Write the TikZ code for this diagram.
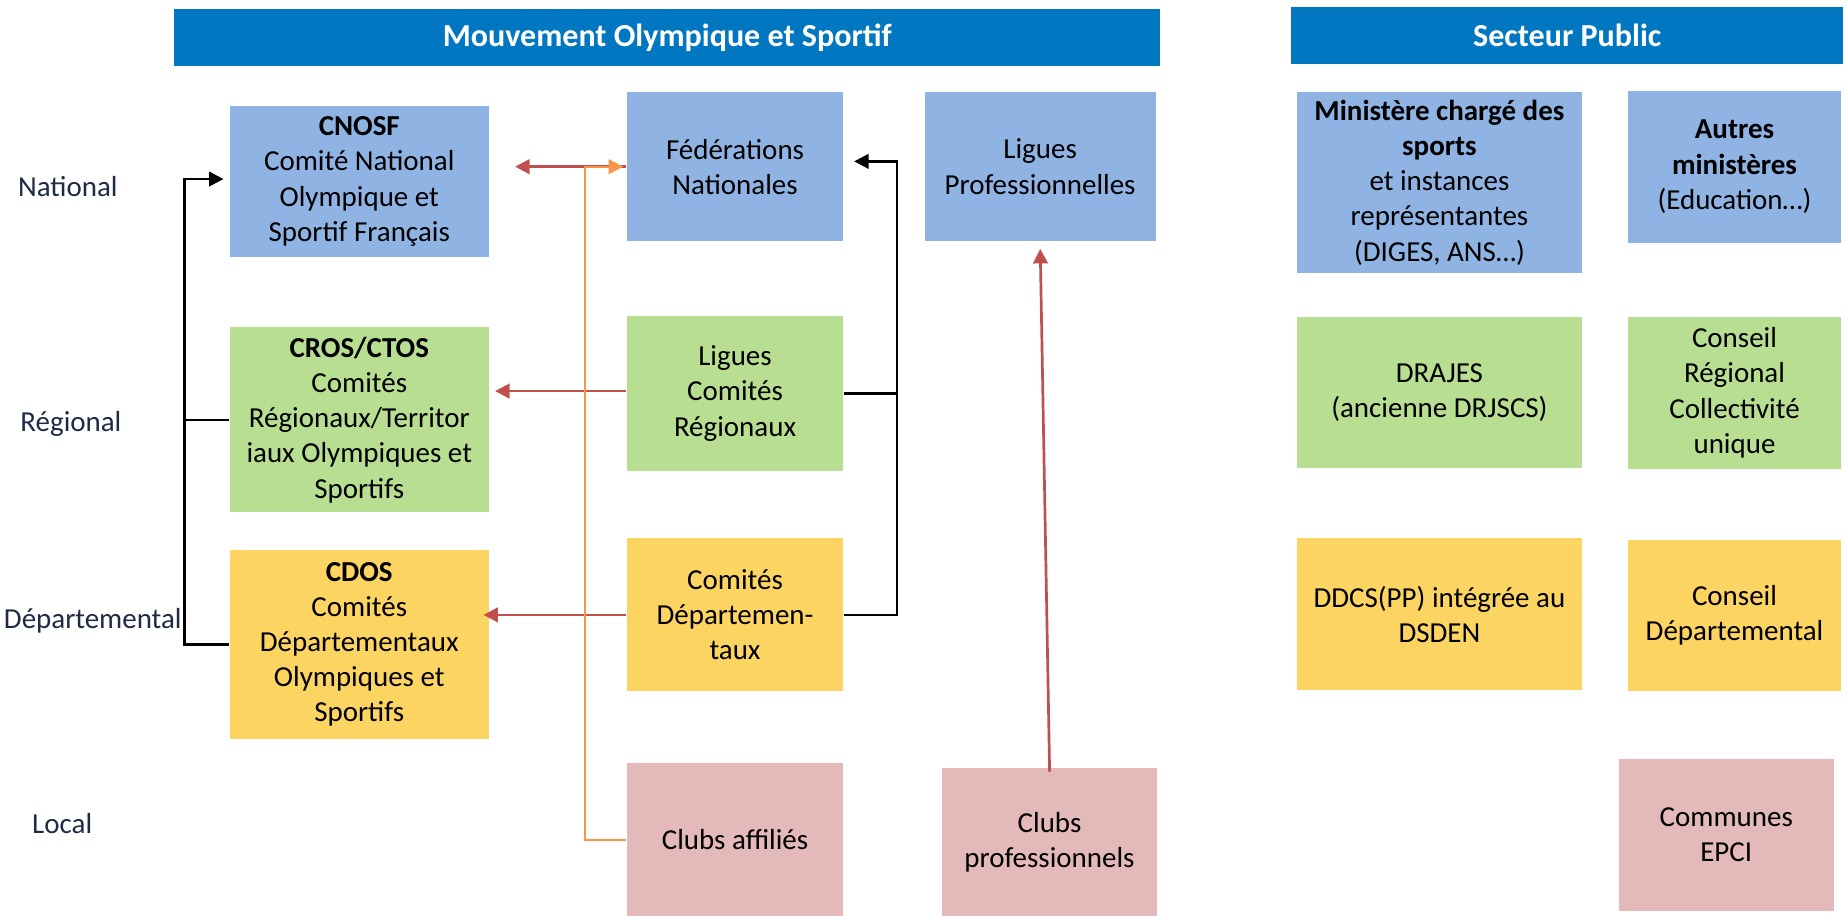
\documentclass[tikz,border=0pt]{standalone}
\usepackage{fontspec}
\setmainfont{Carlito}
\usetikzlibrary{arrows.meta}

\definecolor{bleutitre}{RGB}{0,119,192}
\definecolor{bleucase}{RGB}{143,180,227}
\definecolor{vertcase}{RGB}{184,222,146}
\definecolor{jaunecase}{RGB}{252,212,98}
\definecolor{rosecase}{RGB}{228,185,185}
\definecolor{rougefleche}{RGB}{192,80,77}
\definecolor{orangefleche}{RGB}{247,150,70}
\definecolor{texteniveau}{RGB}{31,42,68}

\tikzset{
  case/.style={inner sep=0pt, align=center, font=\fontsize{14}{17}\selectfont},
  titre/.style={fill=bleutitre, text=white, inner sep=0pt, font=\fontsize{15.5}{18}\selectfont\bfseries},
  niveau/.style={anchor=west, inner sep=0pt, text=texteniveau, font=\fontsize{14}{17}\selectfont},
  fnoire/.style={black, line width=1.2pt, -{Triangle[length=7pt,width=7pt]}},
  frouge/.style={rougefleche, line width=1.3pt, -{Triangle[length=7pt,width=7pt]}},
  forange/.style={orangefleche, line width=1.1pt, -{Triangle[length=7pt,width=7pt]}}
}

\begin{document}
\begin{tikzpicture}[x=0.02cm, y=-0.02cm]
\useasboundingbox (0,0) rectangle (1568,777.6);

% Bandeaux
\node[titre, minimum width=16.74cm, minimum height=0.96cm] (titremo) at (566.5,32) {Mouvement Olympique et Sportif};
\node[titre, minimum width=9.38cm, minimum height=0.96cm] (titresp) at (1330.5,30) {Secteur Public};

% Niveaux
\node[niveau] (nivnat) at (15,158) {National};
\node[niveau] (nivreg) at (17,360) {Régional};
\node[niveau] (nivdep) at (3,527) {Départemental};
\node[niveau] (nivloc) at (27,699) {Local};

% Mouvement olympique
\node[case, fill=bleucase, minimum width=4.40cm, minimum height=2.56cm] (cnosf) at (305,154)
  {\textbf{CNOSF}\\Comité National\\Olympique et\\Sportif Français};
\node[case, fill=vertcase, minimum width=4.40cm, minimum height=3.14cm] (cros) at (305,356.5)
  {\textbf{CROS/CTOS}\\Comités\\Régionaux/Territor\\iaux Olympiques et\\Sportifs};
\node[case, fill=jaunecase, minimum width=4.40cm, minimum height=3.20cm] (cdos) at (305,547)
  {\textbf{CDOS}\\Comités\\Départementaux\\Olympiques et\\Sportifs};

\node[case, fill=bleucase, minimum width=3.68cm, minimum height=2.54cm] (fed) at (624,141.5)
  {Fédérations\\Nationales};
\node[case, fill=vertcase, minimum width=3.68cm, minimum height=2.64cm] (ligreg) at (624,334)
  {Ligues\\Comités\\Régionaux};
\node[case, fill=jaunecase, minimum width=3.68cm, minimum height=2.60cm] (comdep) at (624,522)
  {Comités\\Départemen-\\taux};
\node[case, fill=rosecase, minimum width=3.68cm, minimum height=2.60cm] (clubaff) at (624,713)
  {Clubs affiliés};

\node[case, fill=bleucase, minimum width=3.92cm, minimum height=2.54cm] (ligpro) at (883,141.5)
  {Ligues\\Professionnelles};
\node[case, fill=rosecase, minimum width=3.64cm, minimum height=2.52cm] (clubpro) at (891,715)
  {Clubs\\professionnels};

% Secteur public
\node[case, fill=bleucase, minimum width=4.84cm, minimum height=3.06cm] (minsport) at (1222,155)
  {\textbf{Ministère chargé des}\\\textbf{sports}\\et instances\\représentantes\\(DIGES, ANS…)};
\node[case, fill=bleucase, minimum width=3.62cm, minimum height=2.58cm] (autmin) at (1472.5,141.5)
  {\textbf{Autres}\\\textbf{ministères}\\(Education…)};
\node[case, fill=vertcase, minimum width=4.84cm, minimum height=2.56cm] (drajes) at (1222,333)
  {DRAJES\\(ancienne DRJSCS)};
\node[case, fill=vertcase, minimum width=3.62cm, minimum height=2.58cm] (consreg) at (1472.5,333.5)
  {Conseil\\Régional\\Collectivité\\unique};
\node[case, fill=jaunecase, minimum width=4.84cm, minimum height=2.58cm] (ddcs) at (1222,521.5)
  {DDCS(PP) intégrée au\\DSDEN};
\node[case, fill=jaunecase, minimum width=3.62cm, minimum height=2.58cm] (consdep) at (1472.5,522.5)
  {Conseil\\Départemental};
\node[case, fill=rosecase, minimum width=3.66cm, minimum height=2.58cm] (communes) at (1465.5,708.5)
  {Communes\\EPCI};

% Accolades noires
\draw[fnoire, shorten >=2.8pt] (cdos.west) -- ++(-38,0) |- ([yshift=0.04cm]cnosf.west);
\draw[black, line width=1.2pt] (cros.west) -- ++(-38,0);
\draw[fnoire, shorten >=5pt] (comdep.east) -- ++(45,0) |- ([yshift=0.09cm]fed.east);
\draw[black, line width=1.2pt] (ligreg.east) -- ++(45,0);

% Fleches rouges
\draw[frouge, shorten >=12.5pt] (fed.west) -- (fed.west -| cnosf.east);
\draw[frouge, shorten >=2.8pt] ([yshift=0.04cm]ligreg.west) -- ([yshift=0.04cm]ligreg.west -| cros.east);
\draw[frouge, shorten >=-2.8pt] (comdep.west) -- (comdep.west -| cdos.east);
\draw[frouge, shorten >=3.4pt, shorten <=-2pt] (clubpro.north) -- (ligpro.south);

% Clubs affilies vers federations
\draw[forange, shorten >=1.5pt] (clubaff.west) -- ++(-35,0) |- (fed.west);

\end{tikzpicture}
\end{document}
